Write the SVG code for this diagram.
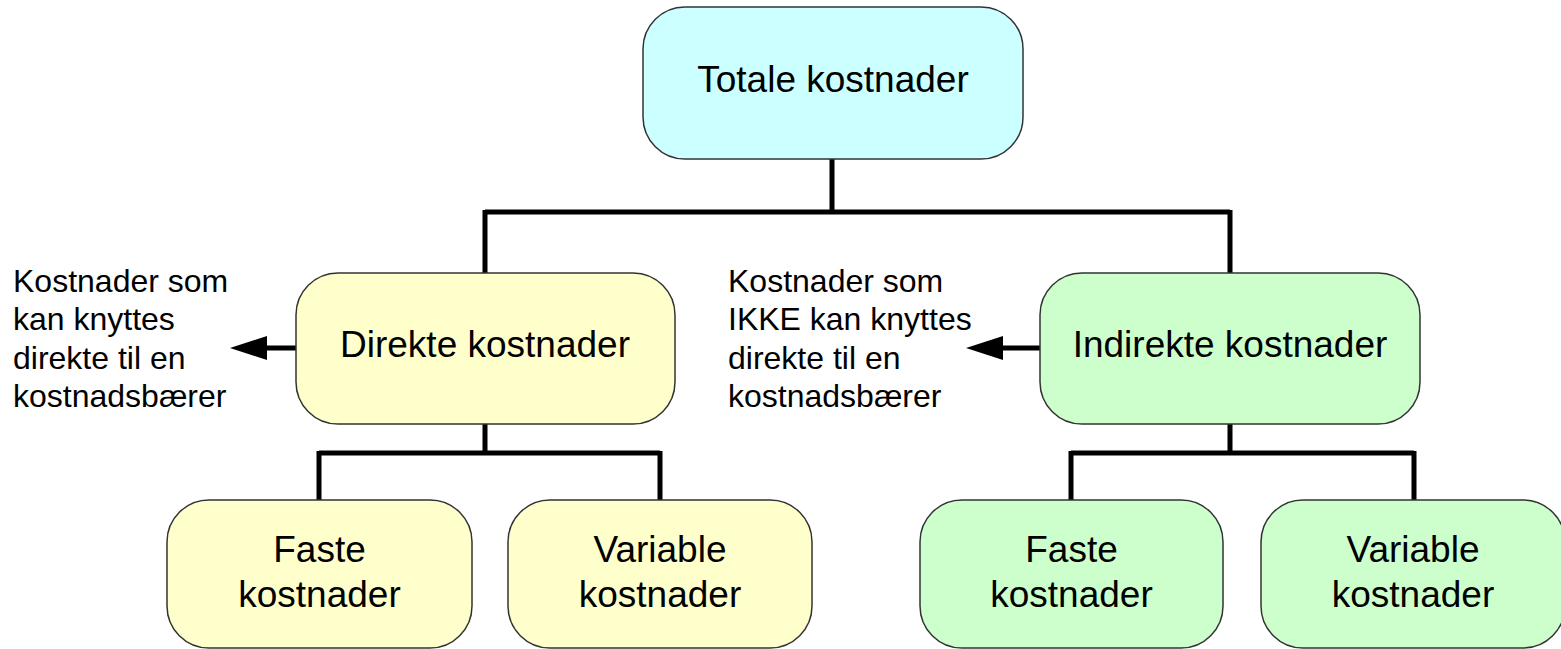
<svg xmlns="http://www.w3.org/2000/svg" width="1561" height="649" viewBox="0 0 1561 649">
<style>
.box{stroke:#333;stroke-width:1.5}
.cyan{fill:#CCFFFF}
.yel{fill:#FFFFCC}
.grn{fill:#CCFFCC}
.lbl{font-family:"Liberation Sans",Arial,sans-serif;font-size:37px;fill:#000;text-anchor:middle}
.side{font-family:"Liberation Sans",Arial,sans-serif;font-size:32px;fill:#000}
.conn{fill:none;stroke:#000;stroke-width:5;stroke-linejoin:miter}
.head{fill:#000}
</style>
<rect width="1561" height="649" fill="#fff"/>
<g id="connectors">
<path class="conn" d="M832,159 V212 M485,212 H1230 M485,210 V273 M1230,210 V273"/>
<path class="conn" d="M485,424 V453 M319,453 H660 M319,451 V501 M660,451 V501"/>
<path class="conn" d="M1230,424 V453 M1071,453 H1414 M1071,451 V501 M1414,451 V501"/>
<path class="conn" d="M296,348 H262"/>
<polygon class="head" points="230,348 267,336 267,360"/>
<path class="conn" d="M1040,348 H998"/>
<polygon class="head" points="966,348 1003,336 1003,360"/>
</g>
<g id="totale">
<rect class="box cyan" x="643" y="7" width="380" height="152" rx="42"/>
<text class="lbl" x="833" y="92">Totale kostnader</text>
</g>
<g id="direkte">
<rect class="box yel" x="296" y="273" width="379" height="151" rx="42"/>
<text class="lbl" x="485" y="357">Direkte kostnader</text>
</g>
<g id="indirekte">
<rect class="box grn" x="1040" y="273" width="380" height="151" rx="42"/>
<text class="lbl" x="1230" y="357">Indirekte kostnader</text>
</g>
<g id="direkte-note">
<text class="side" x="13" y="292">Kostnader som</text>
<text class="side" x="13" y="330">kan knyttes</text>
<text class="side" x="13" y="369">direkte til en</text>
<text class="side" x="13" y="407">kostnadsbærer</text>
</g>
<g id="indirekte-note">
<text class="side" x="728" y="292">Kostnader som</text>
<text class="side" x="728" y="330">IKKE kan knyttes</text>
<text class="side" x="728" y="369">direkte til en</text>
<text class="side" x="728" y="407">kostnadsbærer</text>
</g>
<g id="dir-faste">
<rect class="box yel" x="167" y="500" width="305" height="148" rx="42"/>
<text class="lbl" x="319.5" y="562">Faste</text>
<text class="lbl" x="319.5" y="607">kostnader</text>
</g>
<g id="dir-variable">
<rect class="box yel" x="508" y="500" width="304" height="148" rx="42"/>
<text class="lbl" x="660" y="562">Variable</text>
<text class="lbl" x="660" y="607">kostnader</text>
</g>
<g id="ind-faste">
<rect class="box grn" x="920" y="500" width="303" height="148" rx="42"/>
<text class="lbl" x="1071.5" y="562">Faste</text>
<text class="lbl" x="1071.5" y="607">kostnader</text>
</g>
<g id="ind-variable">
<rect class="box grn" x="1261" y="500" width="304" height="148" rx="42"/>
<text class="lbl" x="1413" y="562">Variable</text>
<text class="lbl" x="1413" y="607">kostnader</text>
</g>
</svg>
